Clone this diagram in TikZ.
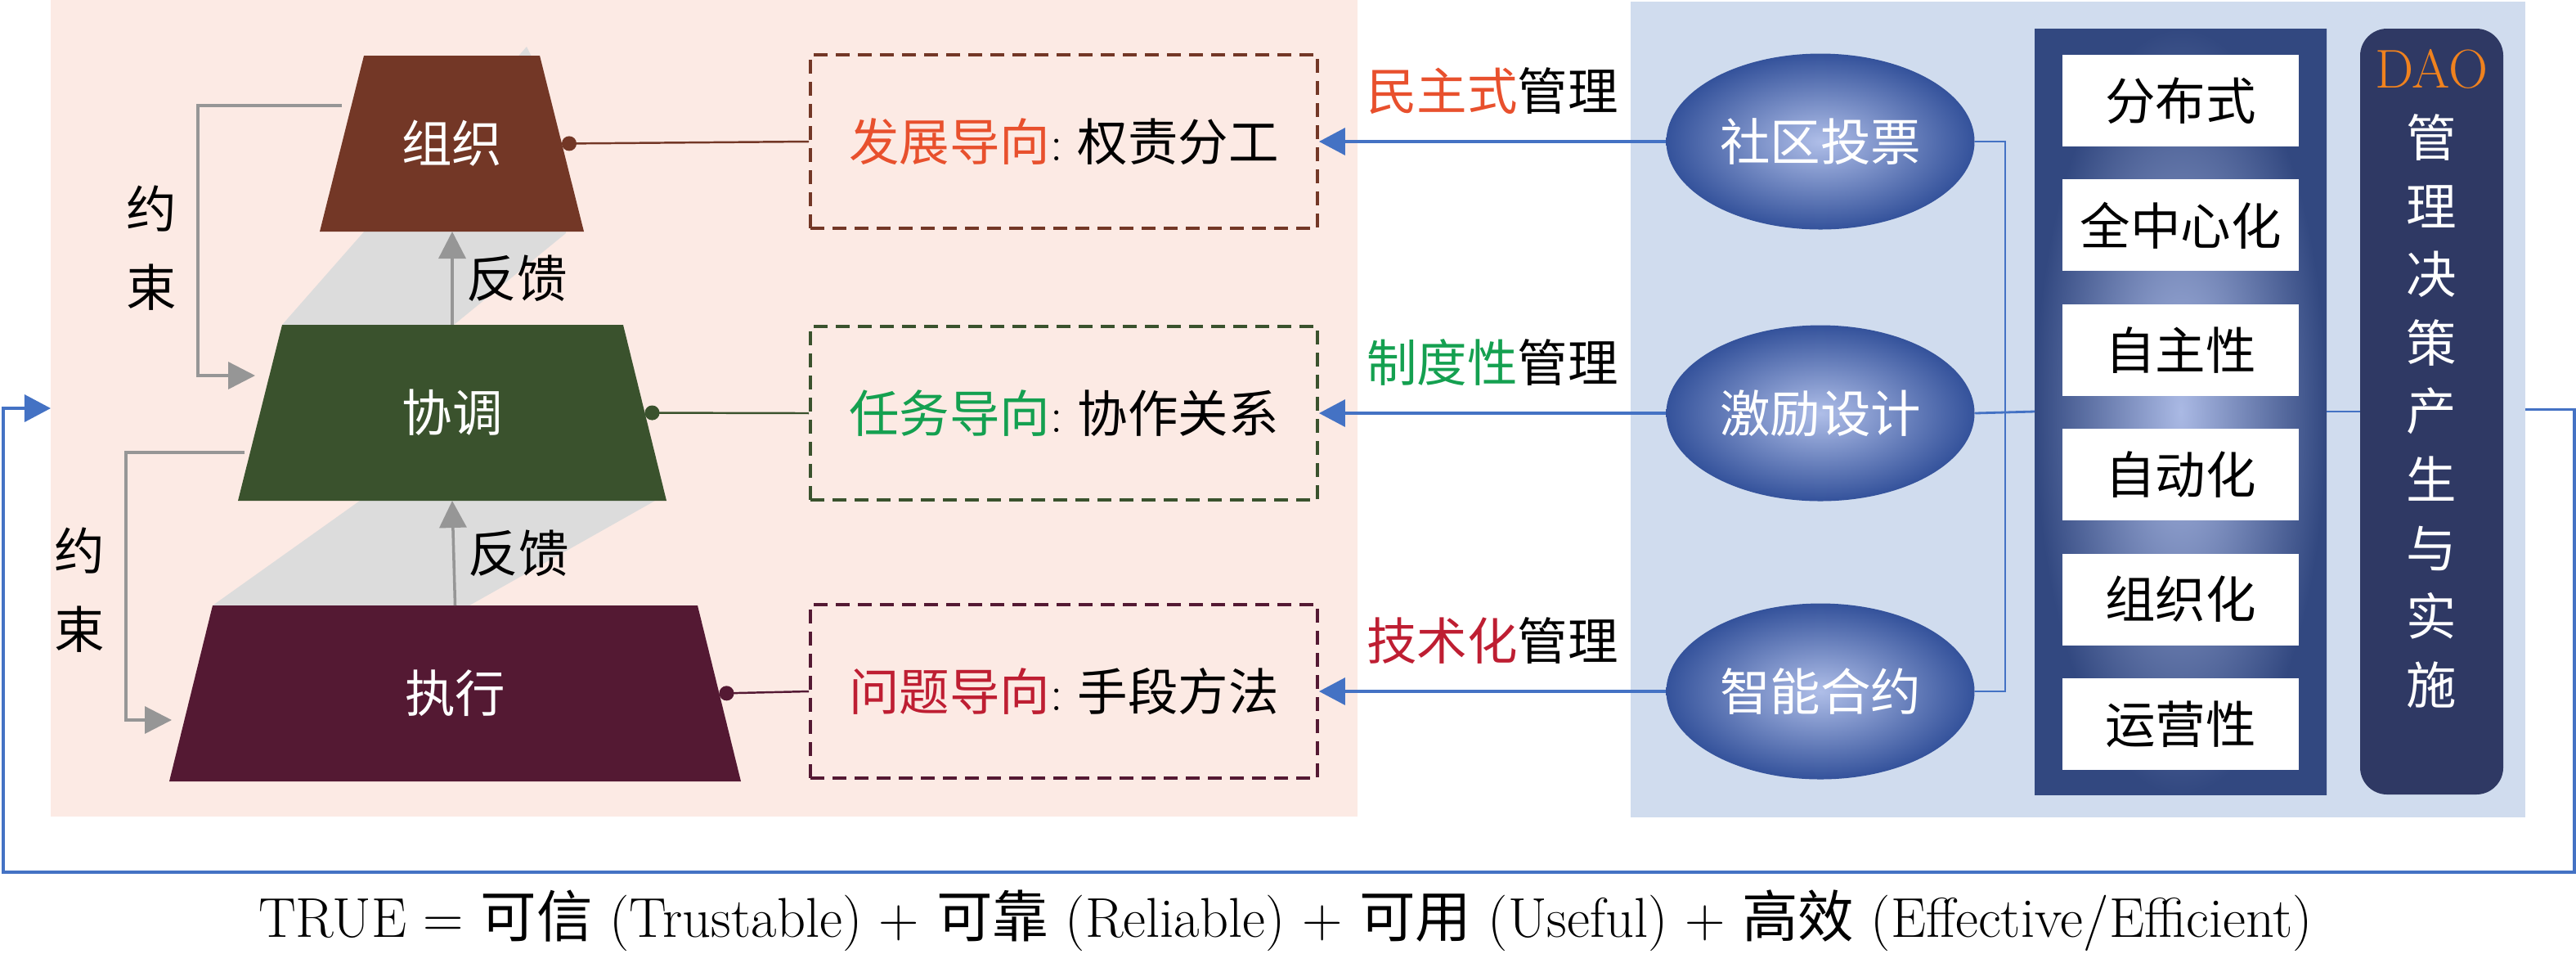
\documentclass[tikz,border=0pt]{standalone}
\usepackage{fontspec}
\usepackage{xcolor}
\usepackage{tikz}
\newfontfamily\cjk{Noto Sans CJK SC}
\usetikzlibrary{shapes,arrows,positioning,calc,arrows.meta}

\definecolor{pinkbg}{RGB}{252,234,228}
\definecolor{bluebg}{RGB}{208,220,238}
\definecolor{brownc}{RGB}{115,55,38}
\definecolor{greenc}{RGB}{58,82,45}
\definecolor{maroonc}{RGB}{84,25,51}
\definecolor{bandgray}{RGB}{220,220,220}
\definecolor{lgray}{RGB}{150,150,150}
\definecolor{linkblue}{RGB}{68,114,196}
\definecolor{redtxt}{RGB}{232,80,45}
\definecolor{greentxt}{RGB}{20,160,80}
\definecolor{crimtxt}{RGB}{190,30,50}
\definecolor{navy}{RGB}{47,57,100}
\definecolor{ellin}{RGB}{175,190,232}
\definecolor{ellout}{RGB}{52,82,155}
\definecolor{colin}{RGB}{170,185,228}
\definecolor{colout}{RGB}{50,72,128}
\definecolor{daoorange}{RGB}{240,130,30}

\begin{document}
\begin{tikzpicture}[
    font=\fontsize{17.5}{21}\selectfont\cjk,
    panel/.style={inner sep=0pt, outer sep=0pt},
    tiertext/.style={text=white, inner sep=0pt},
    taskbox/.style={dash pattern=on 0.17cm off 0.1cm, line width=1.1pt,
        minimum width=6.2cm, minimum height=2.12cm},
    tool/.style={ellipse, minimum width=3.77cm, minimum height=2.15cm, inner sep=0pt,
        shading=radial, inner color=ellin, outer color=ellout, text=white},
    trait/.style={fill=white, minimum width=2.89cm, minimum height=1.12cm, inner sep=0pt},
    fb/.style={draw=lgray, line width=1pt, -{Triangle[length=0.33cm, width=0.33cm]}},
    mgmt/.style={draw=linkblue, line width=1pt, -{Triangle[length=0.32cm, width=0.33cm]}},
    bus/.style={draw=linkblue, line width=0.8pt},
    dotlink/.style={line width=0.7pt, -{Circle[length=0.18cm]}}
]
    \useasboundingbox (0,0) rectangle (31.5,-11.65);

    % Panels
    \node[panel, fill=pinkbg, minimum width=15.98cm, minimum height=9.98cm] (pp) at (8.61,-4.99) {};
    \node[panel, fill=bluebg, minimum width=10.94cm, minimum height=9.97cm] (bp) at (25.41,-5.005) {};

    % Shadow bands
    \fill[bandgray] (3.45,-3.97) -- (6.44,-0.57) -- (6.65,-1.0) -- (6.92,-2.85) -- (5.55,-3.97) -- cycle;
    \fill[bandgray] (2.60,-7.40) -- (4.40,-6.12) -- (8.01,-6.12) -- (5.74,-7.40) -- cycle;

    % Pyramid
    \fill[brownc] (4.45,-0.68) -- (6.60,-0.68) -- (7.14,-2.83) -- (3.91,-2.83) -- cycle;
    \fill[greenc] (3.45,-3.97) -- (7.62,-3.97) -- (8.15,-6.12) -- (2.91,-6.12) -- cycle;
    \fill[maroonc] (2.60,-7.40) -- (8.53,-7.40) -- (9.06,-9.55) -- (2.07,-9.55) -- cycle;
    \node[tiertext] (org) at (5.525,-1.755) {组织};
    \node[tiertext] (coord) at (5.53,-5.045) {协调};
    \node[tiertext] (exec) at (5.565,-8.475) {执行};
    \coordinate (orgS) at (5.53,-2.83);
    \coordinate (orgE) at (6.87,-1.755);
    \coordinate (coordN) at (5.53,-3.97);
    \coordinate (coordS) at (5.53,-6.12);
    \coordinate (coordE) at (7.885,-5.045);
    \coordinate (execN) at (5.565,-7.40);
    \coordinate (execE) at (8.795,-8.475);

    % Feedback
    \draw[fb] (coordN) -- (orgS) node (fb1) [midway, right=0.16cm, inner sep=0pt] {反馈};
    \draw[fb] (execN) -- (coordS) node (fb2) [midway, right=0.16cm, inner sep=0pt] {反馈};

    % Constraints
    \coordinate (k1s) at (4.18,-1.29);
    \coordinate (k1e) at (3.12,-4.59);
    \coordinate (k2s) at (2.99,-5.53);
    \coordinate (k2e) at (2.10,-8.80);
    \draw[fb] (k1s) -- ++(-1.76,0) |- (k1e);
    \draw[fb] (k2s) -- ++(-1.45,0) |- (k2e);
    \node[align=center, font=\fontsize{17.5}{27.3}\selectfont\cjk] (lim1) at (1.85,-3.03) {约\\束};
    \node[align=center, font=\fontsize{17.5}{27.3}\selectfont\cjk] (lim2) at (0.975,-7.21) {约\\束};

    % Orientation boxes
    \node[taskbox, draw=brownc] (task1) at (13.01,-1.73)
        {{\color{redtxt}发展导向}{\rmfamily:} 权责分工};
    \node[taskbox, draw=greenc] (task2) at (13.01,-5.05)
        {{\color{greentxt}任务导向}{\rmfamily:} 协作关系};
    \node[taskbox, draw=maroonc] (task3) at (13.01,-8.45)
        {{\color{crimtxt}问题导向}{\rmfamily:} 手段方法};
    \draw[dotlink, brownc] (task1.west) -- (orgE);
    \draw[dotlink, greenc] (task2.west) -- (coordE);
    \draw[dotlink, maroonc] (task3.west) -- (execE);

    % Tools
    \node[tool] (vote) at (22.26,-1.73) {社区投票};
    \node[tool] (incent) at (22.26,-5.05) {激励设计};
    \node[tool] (smart) at (22.26,-8.45) {智能合约};
    \draw[mgmt] (vote.west) -- (task1.east)
        node (m1) [midway, above=0.2cm] {{\color{redtxt}民主式}管理};
    \draw[mgmt] (incent.west) -- (task2.east)
        node (m2) [midway, above=0.2cm] {{\color{greentxt}制度性}管理};
    \draw[mgmt] (smart.west) -- (task3.east)
        node (m3) [midway, above=0.2cm] {{\color{crimtxt}技术化}管理};

    % Traits
    \node[panel, minimum width=3.57cm, minimum height=9.36cm, shading=radial,
        inner color=colin, outer color=colout] (col) at (26.665,-5.03) {};
    \foreach \t [count=\i] in {分布式, 全中心化, 自主性, 自动化, 组织化, 运营性}
        \node[trait] (tr\i) at (26.665,{-1.23-1.524*(\i-1)}) {\t};

    % DAO
    \node[panel, fill=navy, rounded corners=0.33cm, minimum width=1.75cm,
        minimum height=9.36cm] (dao) at (29.735,-5.03) {};
    \node[align=center, text=white, font=\fontsize{17.5}{23.8}\selectfont\cjk] (daotxt) at (29.735,-4.63)
        {{\rmfamily\fontsize{19}{23.8}\selectfont\color{daoorange}DAO}\\管\\理\\决\\策\\产\\生\\与\\实\\施};

    % Links
    \coordinate (bustop) at (24.52,-1.73);
    \coordinate (busbot) at (24.52,-8.45);
    \draw[bus] (vote.east) -- (bustop) -- (busbot) -- (smart.east);
    \draw[bus] (incent.east) -- (col.west);
    \draw[bus] (col.east) -- (dao.west);

    % Loop
    \coordinate (lr) at (31.48,-10.66);
    \coordinate (ll) at (0.04,-10.66);
    \draw[mgmt] (bp.east) -| (lr) -- (ll) |- (pp.west);

    \node[anchor=base, font=\fontsize{19.5}{23}\selectfont\rmfamily] (truetxt) at (15.72,-11.45)
        {TRUE = {\cjk 可信} (Trustable) + {\cjk 可靠} (Reliable) + {\cjk 可用} (Useful) + {\cjk 高效} (Effective/Efficient)};
\end{tikzpicture}
\end{document}
